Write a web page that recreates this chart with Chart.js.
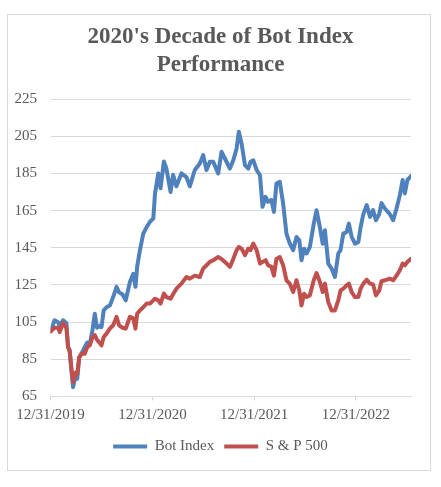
<!DOCTYPE html>
<html><head><meta charset="utf-8">
<script src="https://cdn.jsdelivr.net/npm/chart.js@4.4.0/dist/chart.umd.min.js"></script>
<style>html,body{margin:0;padding:0;background:#fff;overflow:hidden;}</style>
</head><body>
<canvas id="c" width="441" height="487" style="width:441px;height:487px;display:block"></canvas>
<script>
// days since 12/31/2019
const dayOffsets = [0,15,27,33,45,57,63,69,75,81,91,96,103,111,123,132,141,151,159,167,177,183,191,201,213,225,237,246,258,270,285,297,305,311,321,333,345,357,369,375,387,395,407,416,431,440,452,470,488,500,518,
536,548,560,572,584,602,614,626,644,656,668,676,686,698,710,718,728,740,752,761,772,781,793,802,811,823,835,847,859,871,883,893,901,910,919,931,945,955,967,977,985,997,1009,1021,1033,1041,1051,1063,1071,1081,1093,1105,1113,1123,1135,1147,1158,1168,1180,1188,1200,1218,1230,1242,1254,1264,1272,1281,1294];
const botIndex = [100,106,105,103,106,104.5,91.6,90,79,70,77,74.5,86,88,91.6,94,93,101,109.5,102,103,102.3,111.3,113,114,118.5,124,121,120,116.7,126.6,131,124,134.7,143.7,152.6,156,159,160.7,174,185,177,191.4,187.6,175,184.3,178,185,183,178,186.8,
190.3,194.8,186.8,191.2,191.2,185,196.6,193,187.6,192,198.4,207.4,201,189.4,187.6,191.2,192,186.8,184,167,172.4,169.7,170.6,164.3,179.6,180.5,168.8,152.6,147.2,143.7,150.8,149,138.3,144.5,141.9,145.4,158,165.2,156,147.2,154.4,136.5,133.8,129.3,141.9,143.7,152.6,153.5,158,150.8,147.2,148.1,156,163.1,167.9,161.6,165.2,159.8,163.1,169,166.1,163.1,159.8,166.1,173.3,181.4,174.2,181.4,183.6];
const sp500 = [100,102,102,99.6,104.5,102,91.6,89,80,72.7,78,77,86,88,88,91.6,92.5,97,98,95.5,93.7,92.5,97,98.8,101.5,103.3,107.8,103.3,102,101.5,107.8,107,101.5,109.5,111.3,113,115,115,116.7,117.6,116.7,115,120.3,118.5,117.6,120,123,125.7,129.3,128.4,130,
129.3,133.8,135.6,137.4,138.3,140,139,137.4,134.7,139,143.7,145.4,144.5,141,144.5,143.7,147.2,143.7,136.5,137.4,138.3,135.6,134.7,130,139,140,135.6,127.5,125.7,121.2,127.5,122,114,120.3,118.5,119.4,127.5,131.4,126.6,121.2,125.7,115.8,111.3,111.3,116.7,122,123,124.8,125.7,121.2,118.5,118.5,123,125.7,127.8,125.7,125.3,119.4,122,127,127.5,128.4,127.5,130,132.9,136.5,135.6,137.4,139];
const tickDays = [0,366,731,1096];
const tickLabels = ['12/31/2019','12/31/2020','12/31/2021','12/31/2022'];
const yTickValues = [65,85,105,125,145,165,185,205,225];
const seriesNames = ['Bot Index','S & P 500'];
const titleLines = ["2020's Decade of Bot Index","Performance"];

const toXY = arr => arr.map((v,i)=>({x:dayOffsets[i], y:v}));
const FONT = "'Liberation Serif', 'Times New Roman', serif";
const TXT = '#595959';
const GRID = '#d9d9d9';

const borderPlugin = {
  id:'outerBorder',
  beforeDraw(chart){
    const c = chart.ctx;
    c.save();
    c.fillStyle='#fff'; c.fillRect(0,0,chart.width,chart.height);
    c.strokeStyle=GRID; c.lineWidth=1;
    c.strokeRect(7.5,14.5,423,456);
    c.restore();
  }
};

new Chart(document.getElementById('c'), {
  type:'line',
  data:{
    datasets:[
      {label:seriesNames[1], data:toXY(sp500), borderColor:'#c0504d', backgroundColor:'#c0504d', borderWidth:4, pointRadius:0, pointHoverRadius:0, tension:0, borderJoinStyle:'round', borderCapStyle:'round', pointStyle:'line'},
      {label:seriesNames[0], data:toXY(botIndex), borderColor:'#4f81bd', backgroundColor:'#4f81bd', borderWidth:4, pointRadius:0, pointHoverRadius:0, tension:0, borderJoinStyle:'round', borderCapStyle:'round', pointStyle:'line'}
    ]
  },
  options:{
    responsive:false, animation:false, devicePixelRatio:1,
    layout:{padding:{top:0,left:0,right:0,bottom:23}},
    plugins:{
      tooltip:{enabled:false},
      title:{display:true, text:titleLines, color:TXT, font:{family:FONT,size:23,weight:'bold',lineHeight:1.2174}, padding:{top:23.5,bottom:19.5}},
      legend:{display:true, position:'bottom', reverse:true,
        labels:{usePointStyle:true, pointStyleWidth:34, color:TXT, font:{family:FONT,size:15}, padding:10}}
    },
    scales:{
      x:{type:'linear', min:0, max:1294,
        afterBuildTicks(s){ s.ticks = tickDays.map(v=>({value:v})); },
        afterFit(s){ s.height = 32.5; },
        ticks:{autoSkip:false, maxRotation:0, minRotation:0, color:TXT, font:{family:FONT,size:15}, padding:6,
          callback:(v)=>{ const i=tickDays.indexOf(v); return i>=0?tickLabels[i]:''; }},
        grid:{drawOnChartArea:false, drawTicks:true, tickLength:4, color:GRID},
        border:{display:true, color:GRID, width:1}
      },
      y:{type:'linear', min:65, max:225, position:'left',
        afterBuildTicks(s){ s.ticks = yTickValues.map(v=>({value:v})); },
        afterFit(s){ s.width = 50.5; },
        ticks:{color:TXT, font:{family:FONT,size:15}, padding:13.5},
        grid:{color:GRID, drawTicks:false, lineWidth:1},
        border:{display:false}
      },
      yRight:{type:'linear', position:'right', display:true, min:65, max:225,
        afterFit(s){ s.width = 30; },
        ticks:{display:false}, grid:{display:false, drawOnChartArea:false}, border:{display:false}
      }
    }
  },
  plugins:[borderPlugin]
});
</script>
</body></html>
